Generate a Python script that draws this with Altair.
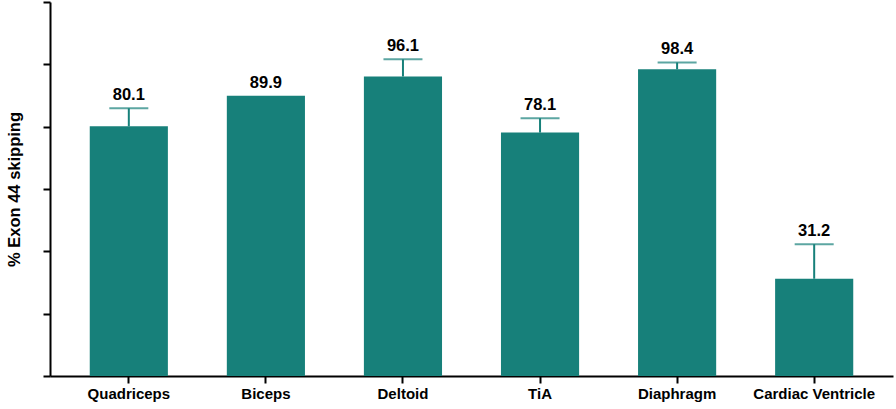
import altair as alt
import pandas as pd

categories = ["Quadriceps", "Biceps", "Deltoid", "TiA", "Diaphragm", "Cardiac Ventricle"]
values = [80.1, 89.9, 96.1, 78.1, 98.4, 31.2]
errors = [5.8, 0.0, 5.5, 4.6, 2.2, 11.1]
labels = ["80.1", "89.9", "96.1", "78.1", "98.4", "31.2"]

df = pd.DataFrame({
    "cat": categories,
    "value": values,
    "err": errors,
    "label": labels,
})
df["upper"] = df["value"] + df["err"]

TEAL = "#17807A"
FONT = "Liberation Sans"

x = alt.X(
    "cat:N",
    sort=categories,
    scale=alt.Scale(paddingInner=0.43, paddingOuter=0.29),
    axis=alt.Axis(
        title=None,
        labelAngle=0,
        labelFont=FONT,
        labelFontSize=15,
        labelFontWeight="bold",
        labelColor="black",
        labelPadding=3,
        tickSize=7,
        tickWidth=2,
        tickColor="black",
        domainColor="black",
        domainWidth=2,
    ),
)

y_scale = alt.Scale(domain=[0, 120], nice=False)

bars = alt.Chart(df).mark_bar(color=TEAL).encode(
    x=x,
    y=alt.Y(
        "value:Q",
        scale=y_scale,
        axis=alt.Axis(
            title="% Exon 44 skipping",
            titleFont=FONT,
            titleFontSize=16.5,
            titleFontWeight="bold",
            titleColor="black",
            titlePadding=20,
            labels=False,
            values=[0, 20, 40, 60, 80, 100, 120],
            tickSize=7,
            tickWidth=2,
            tickColor="black",
            domainColor="black",
            domainWidth=2,
            grid=False,
        ),
    ),
)

err_base = alt.Chart(df).transform_filter("datum.err > 0")

err_rule = err_base.mark_rule(color=TEAL, strokeWidth=2).encode(
    x=alt.X("cat:N", sort=categories),
    y=alt.Y("value:Q", scale=y_scale),
    y2="upper:Q",
)

caps = err_base.mark_tick(color=TEAL, thickness=2, size=39, orient="horizontal").encode(
    x=alt.X("cat:N", sort=categories),
    y=alt.Y("upper:Q", scale=y_scale),
)

text = alt.Chart(df).mark_text(
    font=FONT, fontSize=16.5, fontWeight="bold", color="black",
    baseline="bottom", dy=-5,
).encode(
    x=alt.X("cat:N", sort=categories),
    y=alt.Y("upper:Q", scale=y_scale),
    text="label:N",
)

chart = alt.layer(bars, err_rule, caps, text).properties(
    width=843,
    height=374,
    padding={"left": 50, "top": 2, "right": 3, "bottom": 33},
    autosize=alt.AutoSizeParams(type="none"),
    background="white",
).configure_view(stroke=None)

chart.save("out.html", embed_options={"renderer": "svg", "actions": False})
